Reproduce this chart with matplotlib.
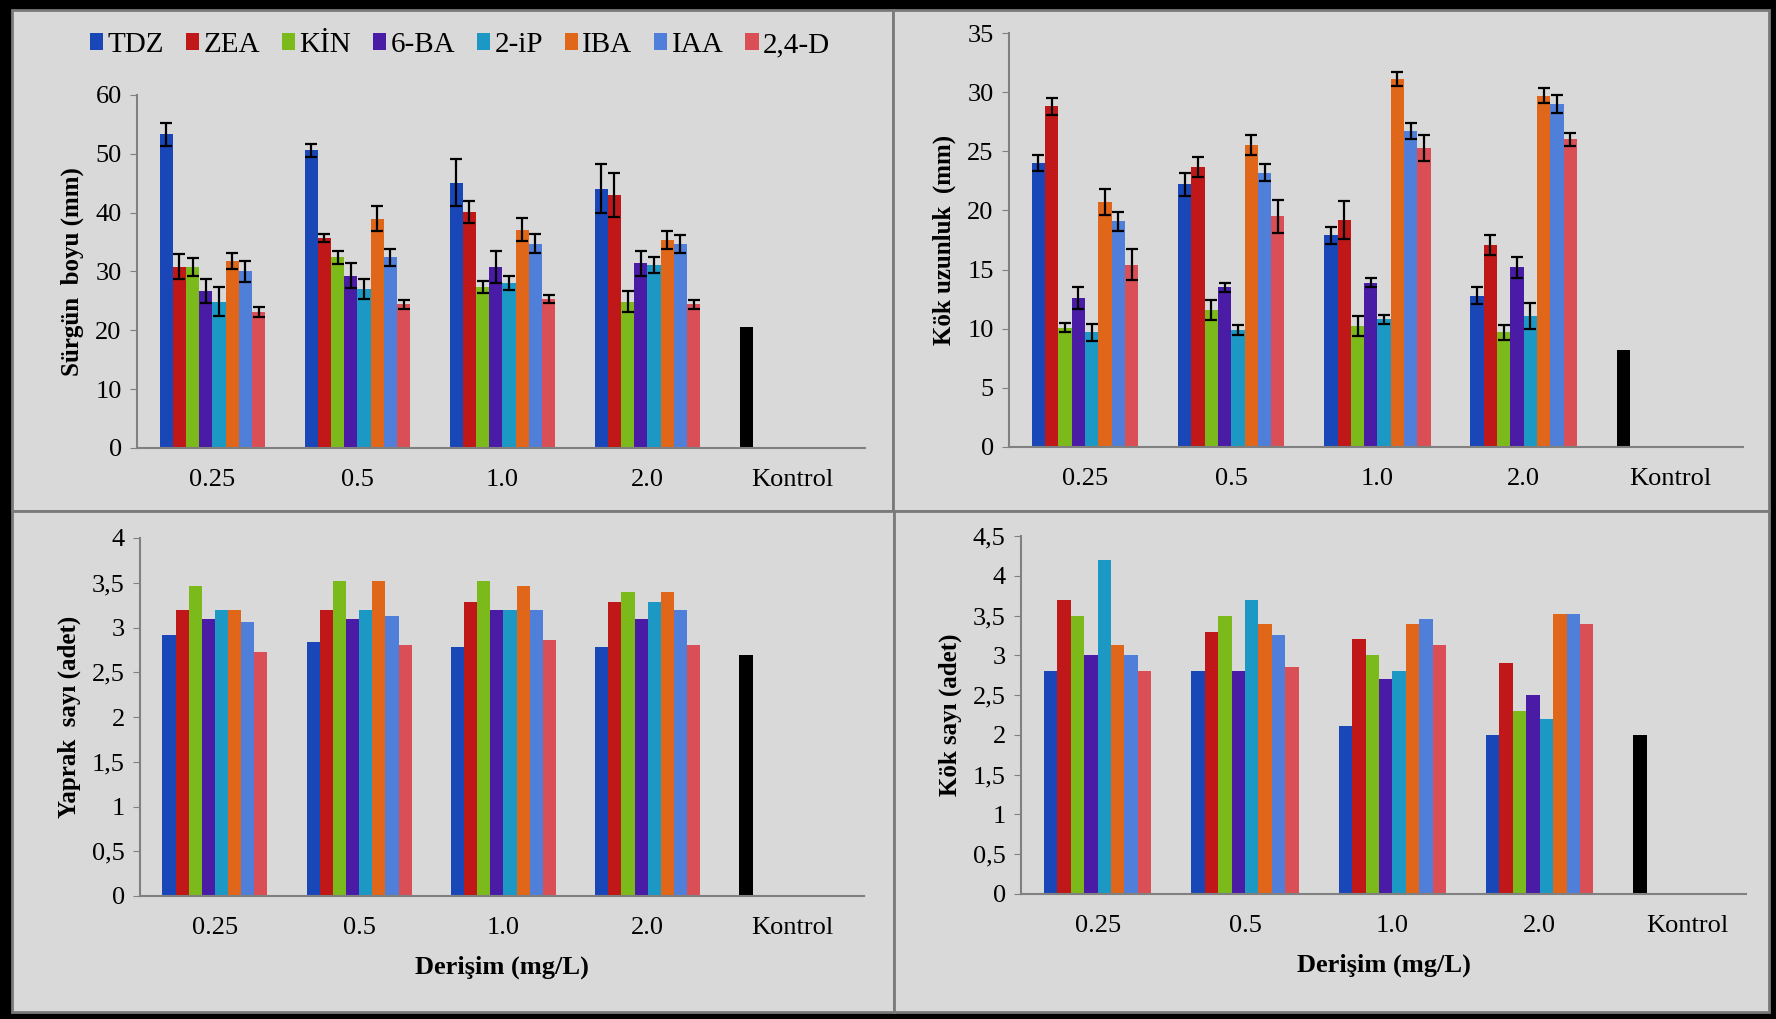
import matplotlib
matplotlib.use("Agg")
import matplotlib.pyplot as plt
import numpy as np
from matplotlib.patches import Rectangle, Patch

plt.rcParams['font.family'] = ['Liberation Serif', 'DejaVu Serif']

categories = ['0.25', '0.5', '1.0', '2.0']
series = ['TDZ', 'ZEA', 'KİN', '6-BA', '2-iP', 'IBA', 'IAA', '2,4-D']
colors = ['#1a47b8', '#c01818', '#7cba1c', '#4a1ca6', '#1c98c4', '#e0661a',
          '#4f7fd8', '#d94f55']

# Sürgün boyu (mm): rows = series, columns = 0.25, 0.5, 1.0, 2.0
shoot_len = [[53.3, 50.6, 45.1, 44.1],
             [30.8, 35.7, 40.1, 43.0],
             [30.8, 32.4, 27.4, 24.9],
             [26.7, 29.3, 30.8, 31.4],
             [24.9, 27.0, 28.1, 31.1],
             [31.8, 39.0, 37.1, 35.3],
             [30.0, 32.4, 34.7, 34.7],
             [23.1, 24.4, 25.3, 24.4]]
shoot_err = [[2.0, 1.1, 4.0, 4.1],
             [2.1, 0.7, 1.9, 3.8],
             [1.5, 1.1, 1.0, 1.8],
             [2.0, 2.1, 2.7, 2.1],
             [2.4, 1.7, 1.2, 1.4],
             [1.3, 2.1, 2.0, 1.5],
             [1.7, 1.4, 1.6, 1.5],
             [0.9, 0.7, 0.7, 0.7]]
shoot_ctrl = 20.5

# Kök uzunluk (mm)
root_len = [[24.0, 22.2, 17.9, 12.8],
            [28.8, 23.7, 19.2, 17.1],
            [10.1, 11.6, 10.2, 9.7],
            [12.6, 13.5, 13.9, 15.2],
            [9.7, 9.9, 10.8, 11.1],
            [20.7, 25.5, 31.1, 29.7],
            [19.1, 23.2, 26.7, 29.0],
            [15.4, 19.5, 25.3, 26.0]]
root_err = [[0.7, 1.0, 0.7, 0.7],
            [0.7, 0.85, 1.6, 0.85],
            [0.4, 0.85, 0.85, 0.65],
            [0.9, 0.4, 0.4, 0.9],
            [0.7, 0.4, 0.4, 1.1],
            [1.1, 0.85, 0.6, 0.65],
            [0.8, 0.7, 0.7, 0.8],
            [1.3, 1.4, 1.1, 0.55]]
root_ctrl = 8.2

# Yaprak sayı (adet)
leaf_n = [[2.92, 2.84, 2.78, 2.78],
          [3.19, 3.19, 3.29, 3.29],
          [3.46, 3.52, 3.52, 3.40],
          [3.10, 3.10, 3.19, 3.10],
          [3.19, 3.19, 3.19, 3.29],
          [3.19, 3.52, 3.46, 3.40],
          [3.06, 3.13, 3.19, 3.19],
          [2.73, 2.80, 2.86, 2.80]]
leaf_ctrl = 2.69

# Kök sayı (adet)
root_n = [[2.80, 2.80, 2.11, 2.00],
          [3.70, 3.29, 3.20, 2.90],
          [3.50, 3.50, 3.00, 2.30],
          [3.00, 2.80, 2.70, 2.50],
          [4.20, 3.70, 2.80, 2.20],
          [3.13, 3.39, 3.39, 3.52],
          [3.00, 3.26, 3.46, 3.52],
          [2.80, 2.85, 3.13, 3.39]]
root_n_ctrl = 2.00

W, H = 1776, 1019
fig = plt.figure(figsize=(W / 100, H / 100), dpi=100)
fig.patch.set_facecolor('black')

BG = '#d9d9d9'
panels = [(12, 10, 893, 511), (893, 10, 1769, 511),
          (12, 511, 894, 1012), (894, 511, 1769, 1012)]
for (l, t, r, b) in panels:
    fig.patches.append(Rectangle((l / W, 1 - b / H), (r - l) / W, (b - t) / H,
                                 transform=fig.transFigure, facecolor=BG,
                                 edgecolor='#7a7a7a', linewidth=2, zorder=-5))


def px_axes(l, t, r, b):
    ax = fig.add_axes([l / W, 1 - b / H, (r - l) / W, (b - t) / H])
    ax.set_zorder(2)
    return ax


bw = 0.091
x = np.arange(len(categories))
offsets = (np.arange(len(series)) - 3.5) * bw


def fmt(v):
    return ('%g' % v).replace('.', ',')


def draw(ax, vals, errs, ctrl, ymax, step, ylabel, xmax, comma=False):
    ax.set_facecolor('none')
    for i in range(len(series)):
        ax.bar(x + offsets[i], vals[i], bw, color=colors[i], zorder=2)
        if errs is not None:
            ax.errorbar(x + offsets[i], vals[i], yerr=errs[i], fmt='none',
                        ecolor='black', elinewidth=1.6, capsize=4,
                        capthick=1.6, zorder=3)
    ax.bar(4 + offsets[0], ctrl, bw, color='black', zorder=2)
    ax.set_xlim(-0.52, xmax)
    ax.set_ylim(0, ymax)
    ticks = np.arange(0, ymax + step / 2, step)
    ax.set_yticks(ticks)
    if comma:
        ax.set_yticklabels([fmt(t) for t in ticks])
    ax.set_xticks(list(x) + [4])
    ax.set_xticklabels(categories + ['Kontrol'])
    for s in ['top', 'right']:
        ax.spines[s].set_visible(False)
    for s in ['left', 'bottom']:
        ax.spines[s].set_color('#808080')
        ax.spines[s].set_linewidth(1.5)
    ax.tick_params(axis='x', length=0, labelsize=19, pad=15)
    ax.tick_params(axis='y', length=5, color='#808080', labelsize=19, pad=6)
    ax.set_ylabel(ylabel, fontsize=18, fontweight='bold', labelpad=8)


ax1 = px_axes(137, 95, 865, 448)
draw(ax1, shoot_len, shoot_err, shoot_ctrl, 60, 10, 'Sürgün  boyu (mm)', 4.5)

ax2 = px_axes(1009, 33, 1743, 447)
draw(ax2, root_len, root_err, root_ctrl, 35, 5, 'Kök uzunluk  (mm)', 4.5)

ax3 = px_axes(140, 538, 864, 896)
draw(ax3, leaf_n, None, leaf_ctrl, 4, 0.5, 'Yaprak  sayı (adet)', 4.5, comma=True)
ax3.set_xlabel('Derişim (mg/L)', fontsize=19, fontweight='bold', labelpad=12)

ax4 = px_axes(1021, 536, 1746, 894)
draw(ax4, root_n, None, root_n_ctrl, 4.5, 0.5, 'Kök sayı (adet)', 4.4, comma=True)
ax4.set_xlabel('Derişim (mg/L)', fontsize=19, fontweight='bold', labelpad=12)

handles = [Patch(facecolor=c, label=s) for c, s in zip(colors, series)]
fig.legend(handles=handles, loc='center', bbox_to_anchor=(460 / W, 1 - 45 / H),
           ncol=8, frameon=False, fontsize=21, handlelength=0.45,
           handleheight=0.55, handletextpad=0.15, columnspacing=0.75)

fig.savefig('out.png', dpi=100, facecolor=fig.get_facecolor())
